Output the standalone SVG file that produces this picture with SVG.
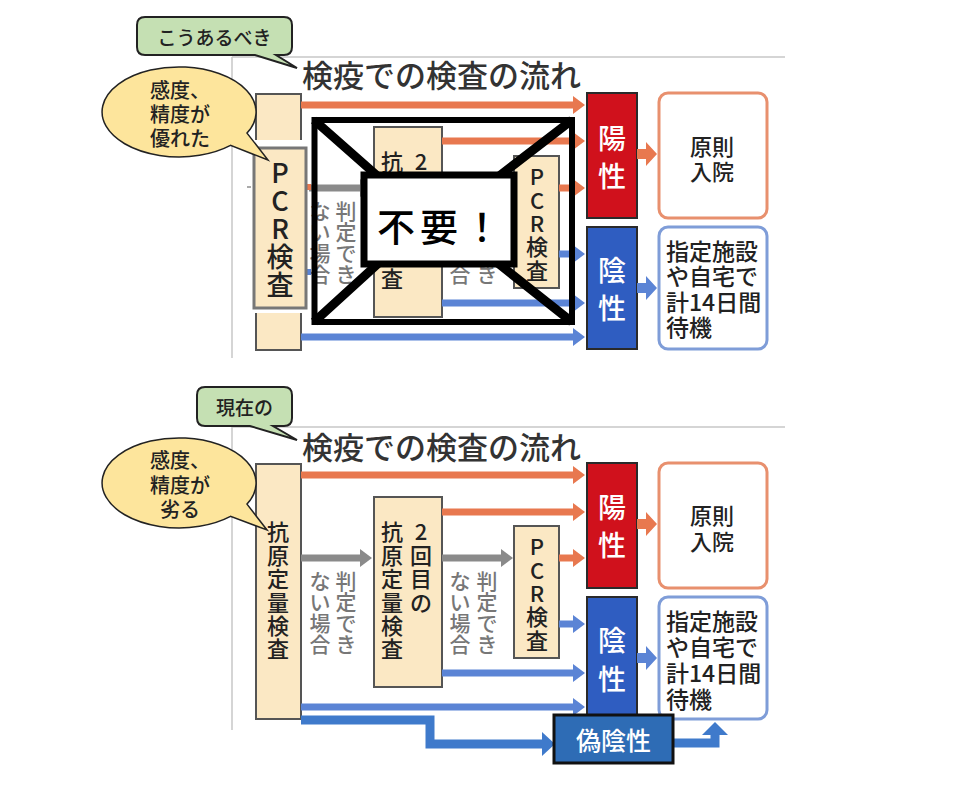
<svg xmlns="http://www.w3.org/2000/svg" width="974" height="804" viewBox="0 0 974 804">
<style>
.t{font-family:'Noto Sans CJK JP','Noto Sans CJK SC',sans-serif;font-weight:500}
.frame{stroke:#c8c8c8;stroke-width:1.5;fill:none}
.box{fill:#fbe8c4;stroke:#555;stroke-width:2}
.pos{fill:#d0111c;stroke:#2a2a2a;stroke-width:2}
.neg{fill:#2f5dc1;stroke:#2a2a2a;stroke-width:2}
.rbox{fill:#fff;stroke:#e8906e;stroke-width:3}
.bbox{fill:#fff;stroke:#7f9dd8;stroke-width:3}
.ar{stroke:#e8784f;stroke-width:7;fill:none;marker-end:url(#mr)}
.ab{stroke:#5b84d5;stroke-width:7;fill:none;marker-end:url(#mb)}
.ag{stroke:#8a8a8a;stroke-width:7;fill:none;marker-end:url(#mg)}
.fn{stroke:#3f7acb;stroke-width:9;fill:none}
.v22{font-size:22px;fill:#222;text-anchor:middle}
.g21{font-size:21px;fill:#777;text-anchor:middle}
.w28{font-size:28px;fill:#fff;text-anchor:middle}
.k22{font-size:22px;fill:#222;text-anchor:middle}
.k23{font-size:23px;fill:#222}
.ttl{font-size:31px;fill:#333}
.cg{fill:#c5e0b3;stroke:#222;stroke-width:2}
.cy{fill:#fde59c;stroke:#222;stroke-width:1.5}
.c19{font-size:19px;fill:#222;text-anchor:middle}
.c20{font-size:20px;fill:#222;text-anchor:middle}
</style>
<defs>
<marker id="mr" markerUnits="userSpaceOnUse" markerWidth="12" markerHeight="18" refX="4" refY="9" orient="auto"><path d="M0,0 L12,9 L0,18 z" fill="#e8784f"/></marker>
<marker id="mb" markerUnits="userSpaceOnUse" markerWidth="12" markerHeight="18" refX="4" refY="9" orient="auto"><path d="M0,0 L12,9 L0,18 z" fill="#5b84d5"/></marker>
<marker id="mg" markerUnits="userSpaceOnUse" markerWidth="12" markerHeight="18" refX="4" refY="9" orient="auto"><path d="M0,0 L12,9 L0,18 z" fill="#8a8a8a"/></marker>
</defs>
<rect width="974" height="804" fill="#fff"/>

<!-- frames -->
<g id="frames">
<path class="frame" d="M232,57 H785 M232,57 V358"/>
<path class="frame" d="M232,427 H785 M232,427 V730"/>
</g>

<!-- titles -->
<text id="title-top" class="t ttl" x="302" y="87">検疫での検査の流れ</text>
<text id="title-bottom" class="t ttl" x="302" y="459">検疫での検査の流れ</text>

<!-- ===== TOP PANEL nodes ===== -->
<g id="top-left-box"><rect class="box" x="256" y="94" width="45" height="256"/></g>
<g id="top-antigen2">
<rect class="box" x="374" y="127" width="68" height="190"/>
<text class="t v22" x="392" y="170.4">抗</text>
<text class="t v22" x="421" y="170.4">2</text>
<text class="t v22" x="392" y="287.4">査</text>
</g>
<g id="top-pcr">
<rect class="box" x="514" y="156" width="45" height="132"/>
<text class="t v22"><tspan x="537" y="185.4">P</tspan><tspan x="537" y="208.7">C</tspan><tspan x="537" y="232">R</tspan><tspan x="537" y="255.4">検</tspan><tspan x="537" y="278.7">査</tspan></text>
</g>
<g id="top-note1"><text class="t g21"><tspan x="346" y="219">判</tspan><tspan x="346" y="240">定</tspan><tspan x="346" y="261">で</tspan><tspan x="346" y="282">き</tspan></text>
<text class="t g21"><tspan x="320" y="219">な</tspan><tspan x="320" y="240">い</tspan><tspan x="320" y="261">場</tspan><tspan x="320" y="282">合</tspan></text></g>
<g id="top-note2"><text class="t g21" x="487" y="282">き</text>
<text class="t g21" x="460" y="282">合</text></g>
<g id="top-positive"><rect class="pos" x="587" y="93" width="50" height="125"/>
<text class="t w28"><tspan x="612" y="148.6">陽</tspan><tspan x="612" y="186.6">性</tspan></text></g>
<g id="top-negative"><rect class="neg" x="587" y="227" width="50" height="122"/>
<text class="t w28"><tspan x="612" y="280.6">陰</tspan><tspan x="612" y="318.6">性</tspan></text></g>
<g id="top-hospital"><rect class="rbox" x="659" y="93" width="108" height="125" rx="9"/>
<text class="t k22"><tspan x="712" y="154.5">原則</tspan><tspan x="712" y="179.5">入院</tspan></text></g>
<g id="top-wait"><rect class="bbox" x="659" y="227" width="108" height="122" rx="9"/>
<text class="t k23"><tspan x="666" y="259.7">指定施設</tspan><tspan x="666" y="285.2">や自宅で</tspan><tspan x="666" y="310.7">計14日間</tspan><tspan x="666" y="336.2">待機</tspan></text></g>

<!-- ===== BOTTOM PANEL nodes ===== -->
<g id="bottom-antigen1">
<rect class="box" x="256" y="464" width="45" height="255"/>
<text class="t v22"><tspan x="278" y="540.4">抗</tspan><tspan x="278" y="563.8">原</tspan><tspan x="278" y="587.2">定</tspan><tspan x="278" y="610.6">量</tspan><tspan x="278" y="634">検</tspan><tspan x="278" y="657.4">査</tspan></text>
</g>
<g id="bottom-antigen2">
<rect class="box" x="374" y="497" width="68" height="190"/>
<text class="t v22"><tspan x="421" y="540.4">2</tspan><tspan x="421" y="563.8">回</tspan><tspan x="421" y="587.2">目</tspan><tspan x="421" y="610.6">の</tspan></text>
<text class="t v22"><tspan x="392" y="540.4">抗</tspan><tspan x="392" y="563.8">原</tspan><tspan x="392" y="587.2">定</tspan><tspan x="392" y="610.6">量</tspan><tspan x="392" y="634">検</tspan><tspan x="392" y="657.4">査</tspan></text>
</g>
<g id="bottom-pcr">
<rect class="box" x="514" y="526" width="45" height="132"/>
<text class="t v22"><tspan x="537" y="555.4">P</tspan><tspan x="537" y="578.7">C</tspan><tspan x="537" y="602">R</tspan><tspan x="537" y="625.4">検</tspan><tspan x="537" y="648.7">査</tspan></text>
</g>
<g id="bottom-note1"><text class="t g21"><tspan x="346" y="589">判</tspan><tspan x="346" y="610">定</tspan><tspan x="346" y="631">で</tspan><tspan x="346" y="652">き</tspan></text>
<text class="t g21"><tspan x="320" y="589">な</tspan><tspan x="320" y="610">い</tspan><tspan x="320" y="631">場</tspan><tspan x="320" y="652">合</tspan></text></g>
<g id="bottom-note2"><text class="t g21"><tspan x="487" y="589">判</tspan><tspan x="487" y="610">定</tspan><tspan x="487" y="631">で</tspan><tspan x="487" y="652">き</tspan></text>
<text class="t g21"><tspan x="460" y="589">な</tspan><tspan x="460" y="610">い</tspan><tspan x="460" y="631">場</tspan><tspan x="460" y="652">合</tspan></text></g>
<g id="bottom-positive"><rect class="pos" x="587" y="463" width="50" height="125"/>
<text class="t w28"><tspan x="612" y="517.6">陽</tspan><tspan x="612" y="555.6">性</tspan></text></g>
<g id="bottom-negative"><rect class="neg" x="587" y="597" width="50" height="122"/>
<text class="t w28"><tspan x="612" y="650.6">陰</tspan><tspan x="612" y="689.6">性</tspan></text></g>
<g id="bottom-hospital"><rect class="rbox" x="659" y="463" width="108" height="125" rx="9"/>
<text class="t k22"><tspan x="712" y="523.5">原則</tspan><tspan x="712" y="549.5">入院</tspan></text></g>
<g id="bottom-wait"><rect class="bbox" x="659" y="597" width="108" height="122" rx="9"/>
<text class="t k23"><tspan x="666" y="629.7">指定施設</tspan><tspan x="666" y="655.7">や自宅で</tspan><tspan x="666" y="681.7">計14日間</tspan><tspan x="666" y="707.7">待機</tspan></text></g>

<!-- ===== connectors ===== -->
<g id="connectors">
<!-- top -->
<line class="ar" x1="301" y1="105" x2="577" y2="105"/>
<line class="ar" x1="442" y1="141" x2="577" y2="141"/>
<line class="ar" x1="559" y1="188" x2="577" y2="188"/>
<line class="ag" x1="301" y1="188" x2="364" y2="188"/>
<line class="ag" x1="442" y1="188" x2="505" y2="188"/>
<line class="ab" x1="559" y1="254" x2="577" y2="254"/>
<line class="ab" x1="442" y1="303" x2="577" y2="303"/>
<line class="ab" x1="301" y1="337" x2="577" y2="337"/>
<path d="M637,149 H646 V142 L657,154 L646,166 V159 H637 Z" fill="#e8784f"/>
<path d="M637,283 H646 V276 L657,288 L646,300 V293 H637 Z" fill="#5b84d5"/>
<!-- bottom -->
<line class="ar" x1="301" y1="475" x2="577" y2="475"/>
<line class="ar" x1="442" y1="512" x2="577" y2="512"/>
<line class="ar" x1="559" y1="558" x2="577" y2="558"/>
<line class="ag" x1="301" y1="558" x2="364" y2="558"/>
<line class="ag" x1="442" y1="558" x2="505" y2="558"/>
<line class="ab" x1="559" y1="624" x2="577" y2="624"/>
<line class="ab" x1="442" y1="673" x2="577" y2="673"/>
<line class="ab" x1="301" y1="707" x2="577" y2="707"/>
<path d="M637,519 H646 V512 L657,524 L646,536 V529 H637 Z" fill="#e8784f"/>
<path d="M637,653 H646 V646 L657,658 L646,670 V663 H637 Z" fill="#5b84d5"/>
<path class="fn" d="M301,720 H430 V744 H543"/>
<path d="M542,732 L555,744 L542,756 Z" fill="#3f7acb"/>
<path class="fn" d="M673,743 H715 V733"/>
<path d="M702,735 L715,722 L728,735 Z" fill="#3f7acb"/>
</g>

<g id="false-negative">
<rect x="554" y="715" width="119" height="48" fill="#2e6cb5" stroke="#111" stroke-width="3"/>
<text class="t" x="613.5" y="749.5" font-size="25" fill="#fff" text-anchor="middle">偽陰性</text>
</g>

<!-- ===== top overlays ===== -->
<g id="top-pcr-overlay">
<rect x="250" y="140" width="59" height="173" fill="#fff"/>
<rect x="306" y="184" width="5" height="6" fill="#e8784f"/>
<rect x="306" y="269" width="5" height="6" fill="#5b84d5"/>
<line x1="247" y1="187" x2="251" y2="187" stroke="#aaa" stroke-width="2"/>
<rect x="254" y="148" width="52" height="160" fill="#fbe8c4" stroke="#777" stroke-width="3"/>
<text class="t" font-size="27" fill="#222" text-anchor="middle"><tspan x="280" y="183.3">P</tspan><tspan x="280" y="211.3">C</tspan><tspan x="280" y="239.3">R</tspan><tspan x="280" y="267.3">検</tspan><tspan x="280" y="295.3">査</tspan></text>
</g>

<g id="cross-out">
<rect x="314.5" y="120" width="257.5" height="202" fill="none" stroke="#000" stroke-width="6"/>
<path d="M314,120 L382,180 M572,120 L494,180 M314,322 L382,260 M572,322 L494,260" stroke="#000" stroke-width="9" fill="none"/>
<rect x="364" y="175" width="150" height="89" fill="#fff" stroke="#000" stroke-width="7"/>
<text class="t" x="377" y="240.5" font-size="38" fill="#000" letter-spacing="5">不要！</text>
</g>

<!-- ===== callouts ===== -->
<g id="callout-should">
<path class="cg" d="M145,17 H284 Q292,17 292,25 V47 Q292,55 284,55 H276 L297,68 L255,55 H145 Q137,55 137,47 V25 Q137,17 145,17 Z"/>
<text class="t c19" x="214.5" y="44.6">こうあるべき</text>
</g>
<g id="callout-good">
<path class="cy" d="M247,133.1 L268,160 L230.5,145.4 A77,45 0 1 1 247,133.1 Z"/>
<text class="t c20"><tspan x="180" y="97.6">感度、</tspan><tspan x="180" y="121.6">精度が</tspan><tspan x="180" y="145.6">優れた</tspan></text>
</g>
<g id="callout-current">
<path class="cg" d="M205,387 H284 Q292,387 292,395 V418 Q292,426 284,426 H273 L297,440 L250,426 H205 Q197,426 197,418 V395 Q197,387 205,387 Z"/>
<text class="t c19" x="244.5" y="414.7">現在の</text>
</g>
<g id="callout-poor">
<path class="cy" d="M247,504.1 L267,530 L230.5,516.4 A77,45 0 1 1 247,504.1 Z"/>
<text class="t c20"><tspan x="180" y="467.6">感度、</tspan><tspan x="180" y="492.6">精度が</tspan><tspan x="180" y="516.6">劣る</tspan></text>
</g>
</svg>
